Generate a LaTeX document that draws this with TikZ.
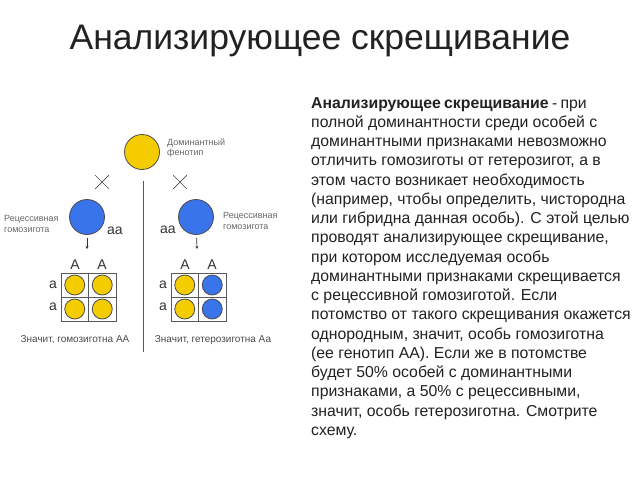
\documentclass[tikz,border=0pt]{standalone}
\usepackage{fontspec}
\setmainfont{Liberation Sans}
\usetikzlibrary{arrows.meta,positioning,shapes.misc}
\definecolor{yel}{HTML}{F5CC00}
\definecolor{blu}{HTML}{3A74EA}
\definecolor{ink}{HTML}{222222}
\newcommand\bodytight{\frenchspacing\spaceskip=0.21em plus 0.1em\relax\xspaceskip=\spaceskip}

\tikzset{
  ball/.style={circle,draw=black!70,fill=#1,line width=0.8pt,inner sep=0pt,minimum size=35pt},
  kid/.style={circle,draw=black!70,fill=#1,line width=0.8pt,inner sep=0pt,minimum size=20pt},
  small/.style={font=\fontsize{9}{10.5}\selectfont,text=black!60,align=left,inner sep=0pt},
  gene/.style={font=\fontsize{14}{14}\selectfont,text=black!80,inner sep=0pt},
  note/.style={font=\fontsize{10}{12}\selectfont,text=black!70,inner sep=0pt},
  crossmark/.style={cross out,draw=black!70,line width=0.7pt,minimum size=13pt,inner sep=0pt},
  arr/.style={-{Stealth[length=3pt,width=3pt]},black!80,line width=0.7pt},
  gridline/.style={draw=black!65,line width=0.7pt}
}

\begin{document}
\begin{tikzpicture}[x=1pt,y=-1pt]
  \useasboundingbox[fill=white] (0,0) rectangle (640,480);
  \node[anchor=base,font=\fontsize{35.5}{40}\selectfont,text=ink] (title) at (320,49) {Анализирующее скрещивание};

  \node[anchor=north west,align=left,inner sep=0pt,text=ink,
        font=\fontsize{15.8}{19.25}\selectfont] (body) at (311,97) {\bodytight
    \textbf{Анализирующее скрещивание} - при\\
    полной доминантности среди особей с\\
    доминантными признаками невозможно\\
    отличить гомозиготы от гетерозигот, а в\\
    этом часто возникает необходимость\\
    (например, чтобы определить, чистородна\\
    или гибридна данная особь). С этой целью\\
    проводят анализирующее скрещивание,\\
    при котором исследуемая особь\\
    доминантными признаками скрещивается\\
    с рецессивной гомозиготой. Если\\
    потомство от такого скрещивания окажется\\
    однородным, значит, особь гомозиготна\\
    (ее генотип АА). Если же в потомстве\\
    будет 50\% особей с доминантными\\
    признаками, а 50\% с рецессивными,\\
    значит, особь гетерозиготна. Смотрите\\
    схему.};

  % parent with dominant phenotype
  \node[ball=yel] (par) at (142,152) {};
  \node[small,anchor=west] (parlbl) at (167,148) {Доминантный\\фенотип};
  \node[crossmark] (crossL) at (102,182) {};
  \node[crossmark] (crossR) at (180,182) {};
  \coordinate (divtop) at (143,181);
  \coordinate (divbot) at (143,352);
  \draw[black!65,line width=0.8pt] (divtop) -- (divbot);

  % recessive homozygotes
  \node[ball=blu] (recL) at (87,217) {};
  \node[ball=blu] (recR) at (196,217) {};
  \node[small,anchor=west] (recLlbl) at (4,224) {Рецессивная\\гомозигота};
  \node[small,anchor=west] (recRlbl) at (223,221) {Рецессивная\\гомозигота};
  \node[gene] (aaL) at (115,231) {aa};
  \node[gene] (aaR) at (168,230) {aa};
  \coordinate (tipL) at (87,249);
  \coordinate (tipR) at (197,249);
  \draw[arr,shorten <=3pt] (recL) -- (tipL);
  \draw[arr,shorten <=3pt] (recR) -- (tipR);

  % offspring grids
  \foreach \gx/\nm/\kc in {61/L/yel,171/R/blu}{
    \draw[gridline] (\gx,273) rectangle ++(55,48);
    \draw[gridline] (\gx+27.5,273) -- ++(0,48);
    \draw[gridline] (\gx,297) -- ++(55,0);
    \node[gene] (A1\nm) at (\gx+14,265) {A};
    \node[gene] (A2\nm) at (\gx+41,265) {A};
    \node[gene] (a1\nm) at (\gx-8,285) {a};
    \node[gene] (a2\nm) at (\gx-8,307) {a};
    \node[kid=yel] (c11\nm) at (\gx+13.75,285) {};
    \node[kid=yel] (c21\nm) at (\gx+13.75,309) {};
    \node[kid=\kc] (c12\nm) at (\gx+41.25,285) {};
    \node[kid=\kc] (c22\nm) at (\gx+41.25,309) {};
  }

  \node[note] (resL) at (75,340) {Значит, гомозиготна АА};
  \node[note] (resR) at (213,340) {Значит, гетерозиготна Аа};
\end{tikzpicture}
\end{document}
